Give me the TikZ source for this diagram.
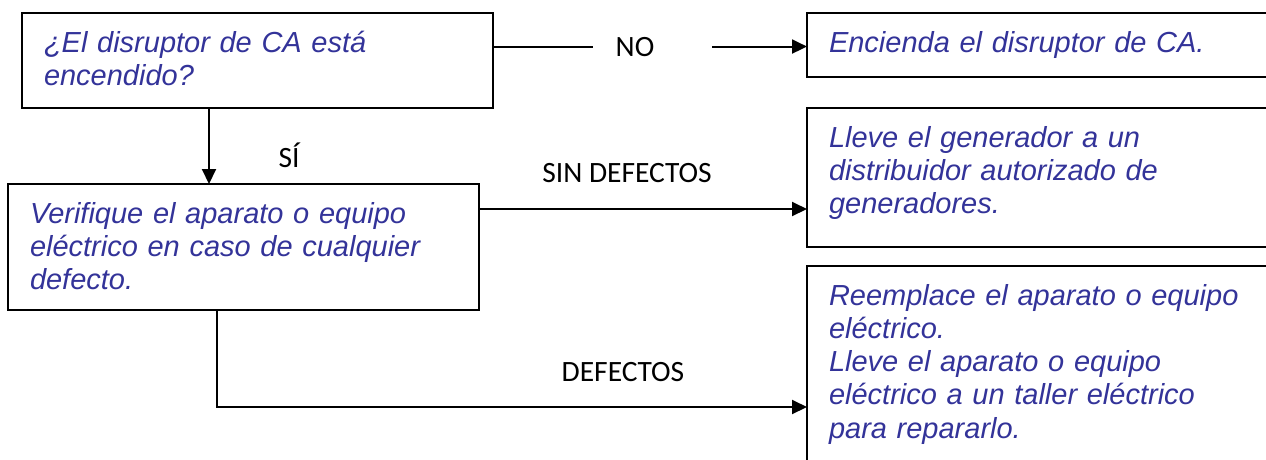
\documentclass[tikz,border=0pt]{standalone}
\usepackage{fontspec}
\setmainfont{Liberation Sans}
\newfontfamily\tagfont{Carlito}
\usetikzlibrary{arrows.meta,positioning}
\definecolor{boxblue}{RGB}{51,51,153}
\tikzstyle{box} = [draw,line width=2pt,anchor=north west,outer sep=0pt,text width=427pt,align=left,inner xsep=22pt,inner ysep=17pt,text height=22pt,text=boxblue,font=\fontsize{29pt}{33.3pt}\selectfont\itshape]
\tikzstyle{tag} = [anchor=base,inner sep=0pt,font=\fontsize{29.5pt}{34pt}\selectfont\tagfont]
\tikzset{>={Triangle[length=15pt,width=14pt]}}

\begin{document}
\begin{tikzpicture}[x=1pt,y=-1pt,line width=2pt]
    \useasboundingbox (0,0) rectangle (1266,459);
    \clip (0,0) rectangle (1266,459);
    \node [box,text depth=39pt] (q) at (22,13) {¿El disruptor de CA está\\encendido?};
    \node [box,text depth=8pt] (on) at (807,13) {Encienda el disruptor de CA.};
    \node [box,text depth=70pt] (check) at (8,184) {Verifique el aparato o equipo\\eléctrico en caso de cualquier\\defecto.};
    \node [box,text depth=83pt] (dealer) at (807,108) {Lleve el generador a un\\distribuidor autorizado de\\generadores.};
    \node [box,text depth=157pt] (repair) at (807,266) {Reemplace el aparato o equipo\\eléctrico.\\Lleve el aparato o equipo\\eléctrico a un taller eléctrico\\para repararlo.};
    \node [tag] (no) at (635,56) {NO};
    \node [tag] (yes) at (289,167) {SÍ};
    \node [tag] (ok) at (627,182) {SIN DEFECTOS};
    \node [tag] (bad) at (623,381) {DEFECTOS};
    \draw (q.east |- no.west) -- ([xshift=-22pt]no.west);
    \draw [->] ([xshift=57pt]no.east) -- (on.west |- no.east);
    \draw [->] ([xshift=187pt]q.south west) -- ([xshift=201pt]check.north west);
    \draw [->] ([yshift=-25pt]check.north east) -- ([yshift=-101pt]dealer.north west);
    \draw [->] ([xshift=209pt]check.south west) |- ([yshift=-141pt]repair.north west);
  \end{tikzpicture}
\end{document}
